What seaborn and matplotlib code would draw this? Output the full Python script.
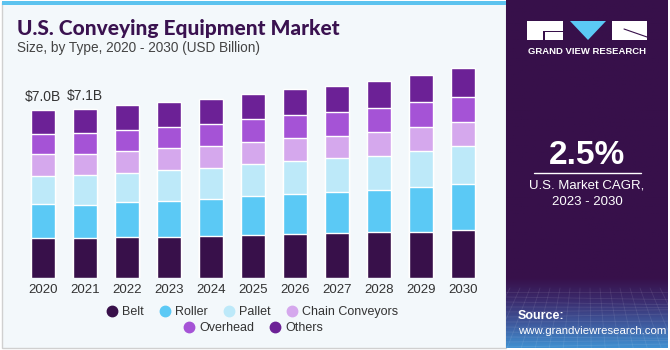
import matplotlib
matplotlib.use("Agg")
import matplotlib.pyplot as plt
from matplotlib.patches import Rectangle, Polygon
from matplotlib.lines import Line2D
from matplotlib.colors import LinearSegmentedColormap
import seaborn as sns
import numpy as np
import pandas as pd

# data (USD billion)
years = ["2020", "2021", "2022", "2023", "2024", "2025", "2026", "2027", "2028", "2029", "2030"]
belt = [1.65, 1.67, 1.72, 1.70, 1.73, 1.79, 1.85, 1.89, 1.90, 1.93, 2.00]
roller = [1.43, 1.36, 1.46, 1.50, 1.58, 1.61, 1.63, 1.70, 1.78, 1.85, 1.92]
pallet = [1.15, 1.25, 1.20, 1.28, 1.28, 1.33, 1.39, 1.40, 1.40, 1.53, 1.57]
chain = [0.92, 0.90, 0.92, 0.92, 0.93, 0.95, 0.95, 0.93, 1.02, 0.97, 0.99]
overhead = [0.86, 0.88, 0.85, 0.89, 0.90, 0.95, 0.96, 1.00, 0.98, 1.06, 1.08]
others = [1.00, 1.00, 1.05, 1.06, 1.04, 1.04, 1.10, 1.10, 1.13, 1.13, 1.20]
segments = ["Belt", "Roller", "Pallet", "Chain Conveyors", "Overhead", "Others"]
value_labels = {"2020": "$7.0B", "2021": "$7.1B"}

colors = ["#38104a", "#5bc9f5", "#bde9f9", "#d5a8ed", "#a553d6", "#6c2196"]

df = pd.DataFrame({"year": years, "Belt": belt, "Roller": roller, "Pallet": pallet,
                   "Chain Conveyors": chain, "Overhead": overhead, "Others": others})
cum = df[segments].cumsum(axis=1)
cum["year"] = df["year"]

sns.set_theme(style="white")
plt.rcParams["font.family"] = ["Liberation Sans", "DejaVu Sans"]

W, H = 670, 350
fig = plt.figure(figsize=(W / 100, H / 100), dpi=100, facecolor="white")


def fx(x):
    return x / W


def fy(y):
    return 1 - y / H


# background panels (kept below the axes)
fig.patches.append(Rectangle((fx(2), fy(348)), fx(504), 346 / H, transform=fig.transFigure,
                             facecolor="#f3f8fb", edgecolor="#d0d0d0", lw=1, zorder=-2))
fig.patches.append(Rectangle((fx(2), fy(5)), fx(504), 4 / H, transform=fig.transFigure,
                             facecolor="#5cc3ef", edgecolor="none", zorder=-1))

# chart
ax = fig.add_axes([fx(22), fy(278), fx(462), 218 / H])
ax.set_facecolor("none")
for i in range(len(segments) - 1, -1, -1):
    seg = segments[i]
    sns.barplot(data=cum, x="year", y=seg, color=colors[i], width=0.57, saturation=1,
                errorbar=None, ax=ax, zorder=2 + (len(segments) - i))
ax.set_xlim(-0.5, 10.5)
ax.set_ylim(0, 218 / 24)
ax.set_xlabel("")
ax.set_ylabel("")
ax.set_yticks([])
sns.despine(ax=ax, left=True, bottom=True)
ax.tick_params(axis="x", length=0, pad=4, labelsize=9.5, labelcolor="#333333")

totals = cum["Others"].tolist()
for i, yr in enumerate(years):
    if yr in value_labels:
        ax.text(i, totals[i] + 0.25, value_labels[yr], ha="center", va="bottom",
                fontsize=10, color="#333333")

# title
fig.text(fx(17), fy(35), "U.S. Conveying Equipment Market", fontsize=15, fontweight="black",
         family=["Lato", "Liberation Sans"], color="#3a1250", ha="left", va="baseline")
fig.text(fx(17), fy(48), "Size, by Type, 2020 - 2030 (USD Billion)", fontsize=9.8,
         color="#444444", ha="left", va="center")

# legend in two rows
handles = [Line2D([0], [0], marker="o", ls="none", markersize=7.5, markerfacecolor=c,
                  markeredgecolor=c) for c in colors]
kw = dict(frameon=False, fontsize=9, handletextpad=0.3, columnspacing=1.2,
          handlelength=1.0, borderpad=0, labelcolor="#333333")
leg1 = fig.legend(handles[:4], segments[:4], ncol=4, loc="center",
                  bbox_to_anchor=(fx(252), fy(312)), **kw)
leg2 = fig.legend(handles[4:], segments[4:], ncol=2, loc="center",
                  bbox_to_anchor=(fx(253), fy(328)), **kw)

# right panel
pax = fig.add_axes([fx(506), fy(348), fx(162), 348 / H])
pax.set_xlim(506, 668)
pax.set_ylim(348, 0)
pax.axis("off")
cmap = LinearSegmentedColormap.from_list("panel", ["#37104a", "#3b2c6e", "#3f5a9e", "#3f8fd0"])
g = np.linspace(0, 1, 200).reshape(-1, 1)
g = np.clip((g - 0.80) / 0.20, 0, 1)
pax.imshow(g, aspect="auto", cmap=cmap, extent=[506, 668, 348, 0], vmin=0, vmax=1)
# faint grid in the lower part
for k in range(12):
    yy = 292 + k * 5.0
    pax.plot([506, 668], [yy, yy + 3 * np.sin(k)], color="white", alpha=0.09, lw=0.6)
for k in range(18):
    xx = 500 + k * 10
    pax.plot([xx, xx + (xx - 587) * 0.4], [288, 348], color="white", alpha=0.09, lw=0.6)

# logo
pax.add_patch(Rectangle((527, 21), 36, 19, facecolor="white", edgecolor="none"))
pax.add_patch(Polygon([[543, 31], [563, 31], [563, 32], [545, 32], [545, 40], [543, 40]],
                      facecolor="#37104a", edgecolor="none"))
pax.add_patch(Polygon([[570, 21], [606, 21], [588, 40]], facecolor="#5bc9f5", edgecolor="none"))
pax.add_patch(Rectangle((612, 21), 35, 19, facecolor="white", edgecolor="none"))
pax.plot([624, 647], [29, 37], color="#37104a", lw=0.8)
pax.text(587, 51, "GRAND VIEW RESEARCH", color="white", fontsize=6.8, fontweight="bold",
         ha="center", va="center")

pax.text(587, 156, "2.5%", color="white", fontsize=24, fontweight="bold", ha="center", va="center")
pax.plot([534, 641], [173, 173], color="white", lw=1)
pax.text(587, 186, "U.S. Market CAGR,", color="white", fontsize=9.5, ha="center", va="center")
pax.text(587, 202, "2023 - 2030", color="white", fontsize=9.5, ha="center", va="center")
pax.text(518, 316, "Source:", color="white", fontsize=9, fontweight="bold", ha="left", va="center")
pax.text(518, 331, "www.grandviewresearch.com", color="white", fontsize=8.2, ha="left", va="center")

fig.savefig("out.png", dpi=100, facecolor="white")
